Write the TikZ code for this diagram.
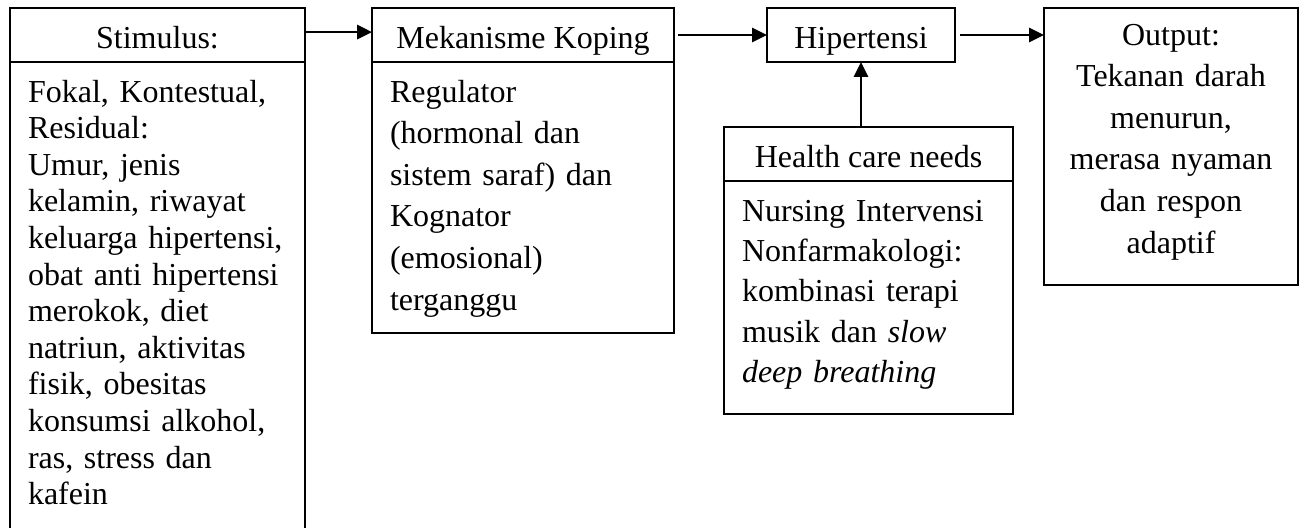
\documentclass[tikz,border=0pt]{standalone}
\usepackage{fontspec}
\setmainfont{Liberation Serif}
\usetikzlibrary{arrows.meta}
\usetikzlibrary{positioning}

\newdimen\pxu
\pxu=0.375pt
\newcommand{\linetop}[1]{\rule{0pt}{#1\pxu}}
\newcommand{\linebot}[1]{\rule[-#1\pxu]{0pt}{#1\pxu}\par}
\newcommand{\bodyindent}{\leftskip=8\pxu\relax}

\begin{document}
\begin{tikzpicture}[x=\pxu,y=-\pxu,font=\fontsize{12pt}{14pt}\selectfont,
    box/.style={draw,line width=0.7pt,inner sep=0pt,outer sep=0pt},
    hdr/.style={box,anchor=north west,minimum height=54\pxu,text height=30\pxu,text depth=4\pxu,align=center},
    bdy/.style={box,inner xsep=10\pxu,inner ysep=0pt,align=left},
    link/.style={line width=0.95pt,-{Triangle[length=5.6pt,width=5.3pt]}}]
  \useasboundingbox (0,0) rectangle (1303,528);
  \clip (0,0) rectangle (1303,528);

  %% stimulus column (runs off the bottom)
  \node[hdr,minimum width=295\pxu] (stimhdr) at (10,8) {Stimulus:};
  \node[bdy,below=0pt of stimhdr,text width=275\pxu,font=\fontsize{12pt}{13.725pt}\selectfont] (stimbdy)
    {\bodyindent\linetop{40}Fokal, Kontestual,\\ Residual:\\ Umur, jenis\\ kelamin, riwayat\\
     keluarga hipertensi,\\ obat anti hipertensi\\ merokok, diet\\ natriun, aktivitas\\
     fisik, obesitas\\ konsumsi alkohol,\\ ras, stress dan\\ kafein\linebot{40}};

  %% coping
  \node[hdr,minimum width=302\pxu] (mekhdr) at (372,8) {Mekanisme Koping};
  \node[bdy,below=0pt of mekhdr,text width=282\pxu,font=\fontsize{12pt}{15.6pt}\selectfont] (mekbdy)
    {\bodyindent\linetop{40}Regulator\\ (hormonal dan\\ sistem saraf) dan\\ Kognator\\ (emosional)\\ terganggu\linebot{23}};

  \node[hdr,minimum width=188\pxu] (hip) at (767,8) {Hipertensi};

  %% health care needs
  \node[hdr,minimum width=289\pxu] (hcnhdr) at (724,127) {Health care needs};
  \node[bdy,below=0pt of hcnhdr,text width=269\pxu,font=\fontsize{12pt}{15.15pt}\selectfont] (hcnbdy)
    {\bodyindent\linetop{40}Nursing Intervensi\\ Nonfarmakologi:\\ kombinasi terapi\\
     musik dan \textit{slow}\\ \textit{deep breathing}\linebot{31}};

  \node[box,anchor=north west,inner xsep=10\pxu,text width=234\pxu,align=center,font=\fontsize{12pt}{15.6pt}\selectfont] (outp) at (1044,8)
    {\linetop{37}Output:\\ Tekanan darah\\ menurun,\\ merasa nyaman\\ dan respon\\ adaptif\linebot{32}};

  \draw[link] ([yshift=1.1pt]stimhdr.east) -- ([yshift=1.1pt]stimhdr.east -| mekhdr.west);
  \draw[link,shorten <=1.5pt] (mekhdr) -- (hip);
  \draw[link,shorten <=1.9pt] (hip.east) -- (hip.east -| outp.west);
  \draw[link] (hcnhdr.north -| hip.south) -- (hip.south);
\end{tikzpicture}
\end{document}
